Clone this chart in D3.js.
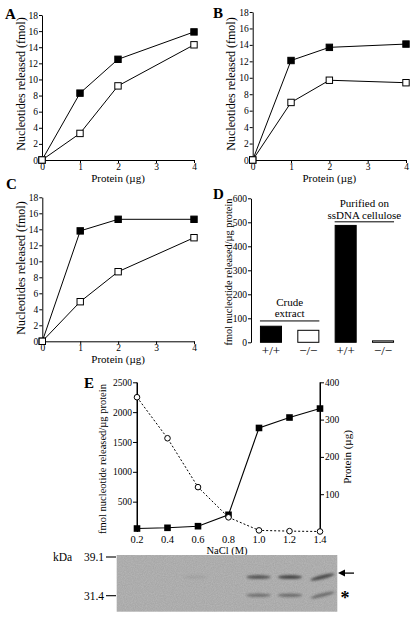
<!DOCTYPE html>
<html><head><meta charset="utf-8">
<script src="https://cdn.jsdelivr.net/npm/d3@7"></script>
<style>
body{margin:0;background:#fff;}
svg{display:block;font-family:"Liberation Serif","Times New Roman",serif;}
</style></head>
<body><svg id="c" width="414" height="617"></svg>
<script>
// ---------- data ----------
const proteinX = [0, 1, 2, 4];
const aFilled = [0, 8.3, 12.5, 15.9];
const aOpen   = [0, 3.3, 9.2, 14.3];
const bFilled = [0, 12.1, 13.7, 14.1];
const bOpen   = [0, 7.0, 9.7, 9.4];
const cFilled = [0, 13.8, 15.25, 15.25];
const cOpen   = [0, 4.95, 8.7, 12.95];
const yTicksABC = [0, 2, 4, 6, 8, 10, 12, 14, 16, 18];
const xTicksABC = [0, 1, 2, 3, 4];

const dCategories = ["cr+", "cr-", "pu+", "pu-"];
const dLabels = ["+/+", "\u2212/\u2212", "+/+", "\u2212/\u2212"];
const dValues = [67, 50, 487, 6];
const dFilled = [true, false, true, false];
const dTicks = [0, 100, 200, 300, 400, 500, 600];

const nacl = [0.2, 0.4, 0.6, 0.8, 1.0, 1.2, 1.4];
const eActivity = [50, 62, 89, 280, 1735, 1910, 2060];
const eProtein = [360, 250, 119, 38, 3, 1, 0];
const eLeftTicks = [500, 1000, 1500, 2000, 2500];
const eRightTicks = [100, 200, 300, 400];

const gelMarkers = [39.1, 31.4];
const gelUpper = [0, 0, 0.06, 0, 0.72, 0.85, 0.8];   // band intensity ~35 kDa
const gelLower = [0, 0, 0, 0, 0.5, 0.55, 0.55];      // band intensity ~31.5 kDa
const upperKDa = 35.1, lowerKDa = 31.5;

// ---------- drawing ----------
const svg = d3.select("#c");
svg.append("rect").attr("width",414).attr("height",617).attr("fill","#fff");
const intFmt = d3.format("d");

function styleAxis(g){
  g.attr("font-family",null);
  g.selectAll("path,line").attr("stroke","#000").attr("stroke-width",1);
  g.selectAll("text").attr("fill","#000").style("font-family","'Liberation Serif', serif").style("font-size","9.5px");
}

function panelLetter(t,x,y){
  svg.append("text").attr("x",x).attr("y",y).text(t)
    .style("font-size","15px").style("font-weight","bold").attr("fill","#000");
}

function linePanel(letter, xr, yr, filled, open, lx, ly, letterPos){
  const x = d3.scaleLinear().domain([0,4]).range(xr);
  const y = d3.scaleLinear().domain([0,18]).range(yr);
  const g = svg.append("g");
  g.append("g").attr("transform",`translate(0,${yr[0]})`)
    .call(d3.axisBottom(x).tickValues(xTicksABC).tickFormat(intFmt).tickSize(3).tickSizeOuter(0).tickPadding(0)).call(styleAxis);
  g.append("g").attr("transform",`translate(${xr[0]},0)`)
    .call(d3.axisLeft(y).tickValues(yTicksABC).tickFormat(intFmt).tickSize(3).tickSizeOuter(0).tickPadding(1)).call(styleAxis);
  const line = d3.line().x((d,i)=>x(proteinX[i])).y(d=>y(d));
  [filled, open].forEach(s=>{
    g.append("path").datum(s).attr("d",line).attr("fill","none").attr("stroke","#000").attr("stroke-width",1);
  });
  [[filled,"#000"],[open,"#fff"]].forEach(([s,f])=>{
    g.selectAll(null).data(s).enter().append("rect")
      .attr("x",(d,i)=>x(proteinX[i])-3.2).attr("y",d=>y(d)-3.2)
      .attr("width",6.4).attr("height",6.4).attr("fill",f).attr("stroke","#000").attr("stroke-width",1);
  });
  g.append("text").attr("transform",`translate(${lx},${ly}) rotate(-90)`).attr("text-anchor","middle")
    .style("font-size","12px").text("Nucleotides released (fmol)");
  g.append("text").attr("x",(xr[0]+xr[1])/2).attr("y",yr[0]+21.5).attr("text-anchor","middle")
    .style("font-size","11px").text("Protein (\u00b5g)");
  panelLetter(letter, letterPos[0], letterPos[1]);
}

linePanel("A",[42,194],[160,15],aFilled,aOpen,25,84,[5,18.5]);
linePanel("B",[252.7,406],[160,12],bFilled,bOpen,235,84,[213,17.5]);
linePanel("C",[42.3,194],[341.3,197.3],cFilled,cOpen,25,268,[6,188.5]);

// ---------- D ----------
{
  const y = d3.scaleLinear().domain([0,600]).range([342.3,198.3]);
  const x = d3.scaleBand().domain(dCategories).range([251,403]).paddingInner(0.41).paddingOuter(0.24);
  const g = svg.append("g");
  g.append("g").attr("transform","translate(251,0)")
    .call(d3.axisLeft(y).tickValues(dTicks).tickFormat(intFmt).tickSize(3).tickSizeOuter(0).tickPadding(1)).call(styleAxis);
  g.selectAll(null).data(dValues).enter().append("rect")
    .attr("x",(d,i)=>x(dCategories[i])+0.5).attr("y",d=>y(d))
    .attr("width",x.bandwidth()-1).attr("height",d=>y(0)-y(d))
    .attr("fill",(d,i)=>dFilled[i]?"#000":"#fff").attr("stroke","#000").attr("stroke-width",1);
  g.selectAll(null).data(dLabels).enter().append("text")
    .attr("x",(d,i)=>x(dCategories[i])+x.bandwidth()/2).attr("y",y(0)+12.5)
    .attr("text-anchor","middle").style("font-size","13px").text(d=>d);
  const crudeL = x("cr+"), crudeR = x("cr-")+x.bandwidth();
  const purL = x("pu+"), purR = x("pu-")+x.bandwidth();
  g.append("line").attr("x1",crudeL).attr("x2",crudeR).attr("y1",y(89)).attr("y2",y(89)).attr("stroke","#000");
  g.append("text").attr("x",(crudeL+crudeR)/2).attr("y",y(153)).attr("text-anchor","middle").style("font-size","11px").text("Crude");
  g.append("text").attr("x",(crudeL+crudeR)/2).attr("y",y(105)).attr("text-anchor","middle").style("font-size","11px").text("extract");
  g.append("line").attr("x1",purL).attr("x2",purR).attr("y1",y(502)).attr("y2",y(502)).attr("stroke","#000");
  g.append("text").attr("x",(purL+purR)/2).attr("y",y(564)).attr("text-anchor","middle").style("font-size","11px").text("Purified on");
  g.append("text").attr("x",(purL+purR)/2).attr("y",y(514)).attr("text-anchor","middle").style("font-size","11px").text("ssDNA cellulose");
  g.append("text").attr("transform","translate(232,272) rotate(-90)").attr("text-anchor","middle")
    .style("font-size","10.3px").text("fmol nucleotide released/\u00b5g protein");
  panelLetter("D",213,198.5);
}

// ---------- E ----------
{
  const x = d3.scaleLinear().domain([0.2,1.4]).range([137,320]);
  const yL = d3.scaleLinear().domain([0,2500]).range([531.5,382.3]);
  const yR = d3.scaleLinear().domain([0,400]).range([531.5,382.3]);
  const g = svg.append("g");
  g.append("g").attr("transform","translate(137,0)")
    .call(d3.axisLeft(yL).tickValues(eLeftTicks).tickFormat(intFmt).tickSize(4).tickSizeOuter(0).tickPadding(1)).call(styleAxis);
  g.append("line").attr("x1",137).attr("x2",137).attr("y1",yL(0)).attr("y2",yL(2500)).attr("stroke","#000");
  g.append("g").attr("transform","translate(320,0)")
    .call(d3.axisRight(yR).tickValues(eRightTicks).tickFormat(intFmt).tickSize(4).tickSizeOuter(0).tickPadding(1)).call(styleAxis);
  g.append("line").attr("x1",320).attr("x2",320).attr("y1",yR(0)).attr("y2",yR(400)).attr("stroke","#000");
  g.selectAll(null).data(nacl).enter().append("text")
    .attr("x",d=>x(d)).attr("y",yL(0)+11.5).attr("text-anchor","middle").style("font-size","10.5px")
    .text(d=>d3.format(".1f")(d));
  g.append("text").attr("x",227).attr("y",553.5).attr("text-anchor","middle").style("font-size","10.5px").text("NaCl (M)");
  g.append("path").datum(eProtein).attr("d",d3.line().x((d,i)=>x(nacl[i])).y(d=>yR(d)))
    .attr("fill","none").attr("stroke","#000").attr("stroke-width",1).attr("stroke-dasharray","2,2");
  g.append("path").datum(eActivity).attr("d",d3.line().x((d,i)=>x(nacl[i])).y(d=>yL(d)))
    .attr("fill","none").attr("stroke","#000").attr("stroke-width",1.1);
  g.selectAll(null).data(eActivity).enter().append("rect")
    .attr("x",(d,i)=>x(nacl[i])-3.3).attr("y",d=>yL(d)-3.3).attr("width",6.6).attr("height",6.6).attr("fill","#000");
  g.selectAll(null).data(eProtein).enter().append("circle")
    .attr("cx",(d,i)=>x(nacl[i])).attr("cy",d=>yR(d)).attr("r",2.8)
    .attr("fill","#fff").attr("stroke","#000").attr("stroke-width",1);
  g.append("text").attr("transform","translate(106,459) rotate(-90)").attr("text-anchor","middle")
    .style("font-size","10.5px").text("fmol nucleotide released/\u00b5g protein");
  g.append("text").attr("transform","translate(351,457) rotate(-90)").attr("text-anchor","middle")
    .style("font-size","11px").text("Protein (\u00b5g)");
  panelLetter("E",84,388);

  // ---------- gel ----------
  const lanes = d3.scaleBand().domain(nacl).range([116.7,337.3]).paddingInner(0.28).paddingOuter(0.14);
  const yK = d3.scaleLinear().domain([39.1,31.4]).range([557,595.7]);
  const defs = svg.append("defs");
  defs.append("filter").attr("id","blur").append("feGaussianBlur").attr("stdDeviation",1.1);
  defs.append("filter").attr("id","noise").call(f=>{
    f.append("feTurbulence").attr("type","fractalNoise").attr("baseFrequency",0.9).attr("numOctaves",2).attr("seed",3);
    f.append("feColorMatrix").attr("type","matrix").attr("values","0 0 0 0 0  0 0 0 0 0  0 0 0 0 0  0 0 0 0.12 0");
    f.append("feComposite").attr("in2","SourceGraphic").attr("operator","in");
  });
  g.append("rect").attr("x",116.7).attr("y",555).attr("width",337.3-116.7).attr("height",611.7-555).attr("fill","#b8b8b8");
  g.append("rect").attr("x",116.7).attr("y",555).attr("width",337.3-116.7).attr("height",611.7-555).attr("fill","#b8b8b8").attr("filter","url(#noise)");
  const bands = g.append("g").attr("filter","url(#blur)");
  [[gelUpper,upperKDa,4],[gelLower,lowerKDa,3.6]].forEach(([arr,kd,h])=>{
    bands.selectAll(null).data(arr).enter().append("ellipse")
      .attr("cx",(d,i)=>lanes(nacl[i])+lanes.bandwidth()/2)
      .attr("cy",yK(kd))
      .attr("rx",lanes.bandwidth()/2+1).attr("ry",h/2)
      .attr("fill","#3a3a3a").attr("opacity",d=>d)
      .attr("transform",(d,i)=>i===6?`rotate(-14 ${lanes(nacl[i])+lanes.bandwidth()/2} ${yK(kd)-4})`:null);
  });
  gelMarkers.forEach(m=>{
    g.append("line").attr("x1",106).attr("x2",116).attr("y1",yK(m)).attr("y2",yK(m)).attr("stroke","#000").attr("stroke-width",1.1);
    g.append("text").attr("x",104).attr("y",yK(m)+4).attr("text-anchor","end").style("font-size","11.5px").text(m.toFixed(1));
  });
  g.append("text").attr("x",53).attr("y",yK(39.1)+4).style("font-size","11.5px").text("kDa");
  const ay = yK(upperKDa)-4;
  g.append("line").attr("x1",343).attr("x2",354).attr("y1",ay).attr("y2",ay).attr("stroke","#000").attr("stroke-width",1.3);
  g.append("path").attr("d",`M338,${ay} L345,${ay-3.5} L345,${ay+3.5} Z`).attr("fill","#000");
  g.append("text").attr("x",345).attr("y",yK(lowerKDa)+9).attr("text-anchor","middle")
    .style("font-size","18px").style("font-weight","bold").text("*");
}
</script></body></html>
